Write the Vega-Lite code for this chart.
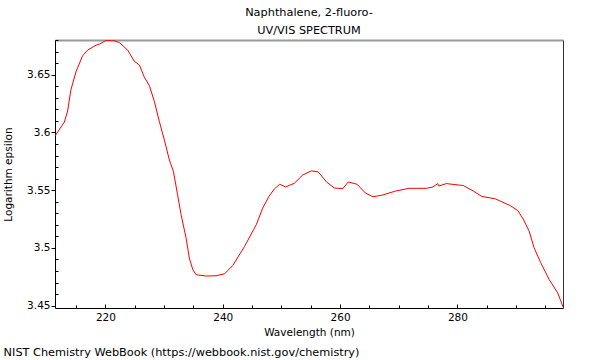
{
  "$schema": "https://vega.github.io/schema/vega-lite/v6.json",
  "padding": {"left": 3, "top": 7, "right": 5, "bottom": 2},
  "background": "white",
  "title": {
    "text": "NIST Chemistry WebBook (https://webbook.nist.gov/chemistry)",
    "orient": "bottom",
    "anchor": "start",
    "frame": "bounds",
    "font": "DejaVu Sans",
    "fontSize": 11.3,
    "fontWeight": "normal",
    "color": "#000",
    "offset": 9
  },
  "vconcat": [
    {
      "title": {
        "text": ["Naphthalene, 2-fluoro-", "UV/VIS SPECTRUM"],
        "anchor": "middle",
        "frame": "group",
        "font": "DejaVu Sans",
        "fontSize": 11.3,
        "fontWeight": "normal",
        "color": "#000",
        "lineHeight": 18,
        "offset": 3
      },
      "width": 508,
      "height": 268,
      "data": {
        "values": [
          {"wavelength": 211.4, "logeps": 3.597},
          {"wavelength": 213.0, "logeps": 3.609},
          {"wavelength": 213.55, "logeps": 3.6185},
          {"wavelength": 214.1, "logeps": 3.6366},
          {"wavelength": 214.97, "logeps": 3.6524},
          {"wavelength": 216.1, "logeps": 3.6663},
          {"wavelength": 216.96, "logeps": 3.6712},
          {"wavelength": 218.4, "logeps": 3.6755},
          {"wavelength": 218.96, "logeps": 3.6764},
          {"wavelength": 220.1, "logeps": 3.6796},
          {"wavelength": 221.2, "logeps": 3.6798},
          {"wavelength": 222.37, "logeps": 3.6778},
          {"wavelength": 223.8, "logeps": 3.6712},
          {"wavelength": 224.9, "logeps": 3.6617},
          {"wavelength": 225.8, "logeps": 3.6583},
          {"wavelength": 226.6, "logeps": 3.6481},
          {"wavelength": 227.5, "logeps": 3.6404},
          {"wavelength": 228.35, "logeps": 3.6265},
          {"wavelength": 229.2, "logeps": 3.6092},
          {"wavelength": 230.05, "logeps": 3.5934},
          {"wavelength": 230.9, "logeps": 3.5761},
          {"wavelength": 231.6, "logeps": 3.566},
          {"wavelength": 232.3, "logeps": 3.5459},
          {"wavelength": 232.9, "logeps": 3.5286},
          {"wavelength": 233.75, "logeps": 3.5085},
          {"wavelength": 234.3, "logeps": 3.4912},
          {"wavelength": 234.9, "logeps": 3.4811},
          {"wavelength": 235.45, "logeps": 3.4768},
          {"wavelength": 237.15, "logeps": 3.4757},
          {"wavelength": 238.86, "logeps": 3.4759},
          {"wavelength": 240.3, "logeps": 3.4776},
          {"wavelength": 241.7, "logeps": 3.4848},
          {"wavelength": 243.7, "logeps": 3.5012},
          {"wavelength": 245.7, "logeps": 3.52},
          {"wavelength": 246.8, "logeps": 3.5344},
          {"wavelength": 247.85, "logeps": 3.5444},
          {"wavelength": 248.8, "logeps": 3.5511},
          {"wavelength": 249.7, "logeps": 3.5551},
          {"wavelength": 250.7, "logeps": 3.5528},
          {"wavelength": 252.2, "logeps": 3.556},
          {"wavelength": 253.65, "logeps": 3.5632},
          {"wavelength": 255.1, "logeps": 3.5667},
          {"wavelength": 256.25, "logeps": 3.5659},
          {"wavelength": 257.7, "logeps": 3.5571},
          {"wavelength": 259.0, "logeps": 3.5519},
          {"wavelength": 260.45, "logeps": 3.5513},
          {"wavelength": 261.4, "logeps": 3.5571},
          {"wavelength": 262.9, "logeps": 3.5551},
          {"wavelength": 264.3, "logeps": 3.5476},
          {"wavelength": 265.6, "logeps": 3.5443},
          {"wavelength": 267.2, "logeps": 3.5457},
          {"wavelength": 269.5, "logeps": 3.5493},
          {"wavelength": 271.8, "logeps": 3.5516},
          {"wavelength": 274.65, "logeps": 3.5516},
          {"wavelength": 275.8, "logeps": 3.5527},
          {"wavelength": 276.65, "logeps": 3.5557},
          {"wavelength": 276.85, "logeps": 3.5536},
          {"wavelength": 278.1, "logeps": 3.5557},
          {"wavelength": 281.0, "logeps": 3.554},
          {"wavelength": 282.7, "logeps": 3.5493},
          {"wavelength": 284.15, "logeps": 3.5446},
          {"wavelength": 286.45, "logeps": 3.5425},
          {"wavelength": 289.0, "logeps": 3.5367},
          {"wavelength": 290.3, "logeps": 3.5323},
          {"wavelength": 291.2, "logeps": 3.5251},
          {"wavelength": 292.2, "logeps": 3.5149},
          {"wavelength": 293.05, "logeps": 3.5004},
          {"wavelength": 294.2, "logeps": 3.4872},
          {"wavelength": 295.65, "logeps": 3.4726},
          {"wavelength": 297.1, "logeps": 3.4611},
          {"wavelength": 298.0, "logeps": 3.449}
        ]
      },
      "resolve": {"axis": {"x": "independent", "y": "independent"}},
      "layer": [
        {
          "mark": {"type": "line", "strokeOpacity": 0, "clip": true},
          "encoding": {
            "x": {
              "field": "wavelength",
              "type": "quantitative",
              "scale": {"domain": [211.4, 298], "nice": false, "zero": false},
              "axis": {
                "orient": "bottom",
                "title": null,
                "labels": false,
                "domain": false,
                "values": [215, 225, 230, 235, 245, 250, 255, 265, 270, 275, 285, 290, 295],
                "tickSize": -3
              }
            },
            "y": {
              "field": "logeps",
              "type": "quantitative",
              "scale": {"domain": [3.448, 3.68], "nice": false, "zero": false},
              "axis": {
                "orient": "left",
                "title": null,
                "labels": false,
                "domain": false,
                "values": [3.46, 3.47, 3.48, 3.49, 3.51, 3.52, 3.53, 3.54, 3.56, 3.57, 3.58, 3.59, 3.61, 3.62, 3.63, 3.64, 3.66, 3.67, 3.68],
                "tickSize": -3
              }
            }
          }
        },
        {
          "mark": {"type": "line", "strokeOpacity": 0, "clip": true},
          "encoding": {
            "x": {
              "field": "wavelength",
              "type": "quantitative",
              "axis": {
                "orient": "top",
                "title": null,
                "labels": false,
                "ticks": false,
                "domainColor": "#999999",
                "domainWidth": 2
              }
            },
            "y": {
              "field": "logeps",
              "type": "quantitative",
              "axis": {
                "orient": "right",
                "title": null,
                "labels": false,
                "ticks": false,
                "domainColor": "#333333",
                "domainWidth": 1
              }
            }
          }
        },
        {
          "mark": {"type": "line", "color": "#ff0000", "strokeWidth": 1, "clip": true},
          "encoding": {
            "x": {
              "field": "wavelength",
              "type": "quantitative",
              "axis": {
                "orient": "bottom",
                "title": "Wavelength (nm)",
                "values": [220, 240, 260, 280],
                "format": "d",
                "tickSize": -4,
                "labelPadding": 8,
                "titlePadding": 5
              }
            },
            "y": {
              "field": "logeps",
              "type": "quantitative",
              "axis": {
                "orient": "left",
                "title": "Logarithm epsilon",
                "values": [3.45, 3.5, 3.55, 3.6, 3.65],
                "format": ".3~g",
                "tickSize": 4,
                "labelPadding": 1,
                "titlePadding": 13
              }
            }
          }
        }
      ]
    }
  ],
  "config": {
    "font": "DejaVu Sans",
    "view": {"stroke": null},
    "axis": {
      "labelFont": "DejaVu Sans",
      "titleFont": "DejaVu Sans",
      "labelFontSize": 10.5,
      "titleFontSize": 10.5,
      "titleFontWeight": "normal",
      "labelColor": "#000",
      "titleColor": "#000",
      "domainColor": "#000",
      "tickColor": "#000",
      "grid": false,
      "labelOverlap": false,
      "labelBound": false,
      "labelFlush": false
    }
  }
}
